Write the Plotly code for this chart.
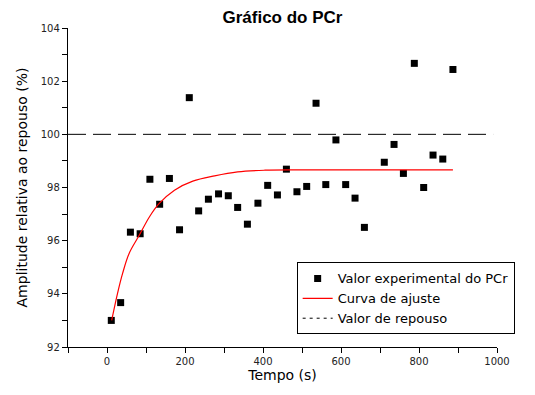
import plotly.graph_objects as go

# Experimental points
tempo = [11, 35, 60, 85, 110, 135, 160, 186, 211, 235, 260, 286, 311, 335, 360,
         387, 412, 437, 460, 487, 512, 536, 561, 587, 612, 636, 660, 711, 736,
         760, 788, 812, 836, 861, 887]
amplitude = [93.00, 93.67, 96.32, 96.26, 98.31, 97.37, 98.34, 96.41, 101.38, 97.12,
             97.56, 97.76, 97.69, 97.25, 96.62, 97.41, 98.08, 97.72, 98.69, 97.84,
             98.04, 101.17, 98.11, 99.79, 98.11, 97.60, 96.50, 98.95, 99.62, 98.53,
             102.67, 98.00, 99.22, 99.07, 102.44]

# Fitted curve
ajuste_x = [12, 27, 40, 57, 83, 109, 134, 173, 220, 276, 335, 404, 500, 600, 700, 800, 887]
ajuste_y = [93.00, 94.02, 94.77, 95.53, 96.21, 96.90, 97.40, 97.90, 98.24, 98.44,
            98.59, 98.65, 98.66, 98.66, 98.66, 98.66, 98.66]

# Rest value line
repouso_x = [-100, 990]
repouso_y = [100, 100]

titulo = "Gráfico do PCr"
x_titulo = "Tempo (s)"
y_titulo = "Amplitude relativa ao repouso (%)"

fig = go.Figure()
fig.add_trace(go.Scatter(x=tempo, y=amplitude, mode="markers",
                         name="Valor experimental do PCr",
                         marker=dict(symbol="square", size=7, color="black")))
fig.add_trace(go.Scatter(x=ajuste_x, y=ajuste_y, mode="lines", name="Curva de ajuste",
                         line=dict(color="red", width=1.2, shape="spline")))
fig.add_trace(go.Scatter(x=repouso_x, y=repouso_y, mode="lines", name="Valor de repouso",
                         showlegend=False,
                         line=dict(color="black", width=1, dash="18px,7px")))
# legend entry for the rest line (short dashes as in the original legend)
fig.add_trace(go.Scatter(x=[None], y=[None], mode="lines", name="Valor de repouso",
                         line=dict(color="black", width=1, dash="3px,4px")))

axis_common = dict(showline=True, linecolor="black", linewidth=1.3, mirror=False,
                   ticks="outside", ticklen=5, tickcolor="black", tickwidth=1,
                   showgrid=False, zeroline=False, automargin=False,
                   tickfont=dict(family="DejaVu Sans", size=10, color="#222"),
                   title_font=dict(family="DejaVu Sans", size=14, color="black"))

fig.update_xaxes(range=[-100, 1000], tick0=0, dtick=200,
                 minor=dict(dtick=100, ticks="outside", ticklen=5, tickcolor="black"),
                 title_text=x_titulo, title_standoff=4, **axis_common)
fig.update_yaxes(range=[92, 104], tick0=92, dtick=2,
                 minor=dict(dtick=1, ticks="outside", ticklen=5, tickcolor="black"),
                 title_text=y_titulo, title_standoff=9, **axis_common)

fig.update_layout(
    width=535, height=395, autosize=False,
    margin=dict(l=68, r=38, t=28, b=48),
    paper_bgcolor="white", plot_bgcolor="white",
    title=dict(text="<b>" + titulo + "</b>", x=0.528, xanchor="center", y=0.958,
               yanchor="middle", font=dict(family="Liberation Sans", size=17, color="black")),
    legend=dict(x=0.533, y=0.265, xanchor="left", yanchor="top",
                bordercolor="black", borderwidth=1, bgcolor="white",
                font=dict(family="DejaVu Sans", size=13, color="black"),
                tracegroupgap=0),
    showlegend=True,
)

fig.write_html("out.html",
               config={"displayModeBar": False, "responsive": False},
               post_script="document.body.style.margin='0';document.body.style.overflow='hidden';")
